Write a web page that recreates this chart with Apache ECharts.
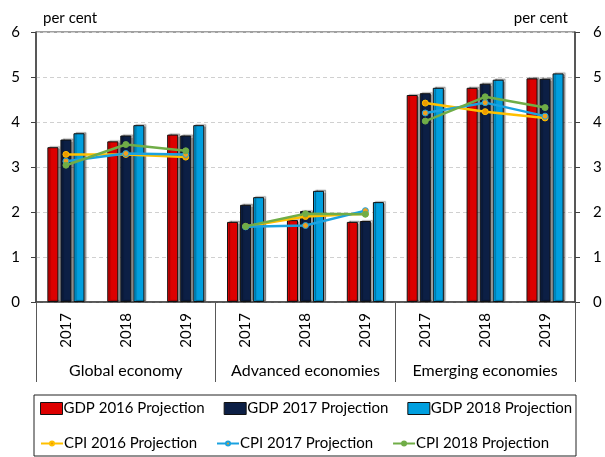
<!DOCTYPE html>
<html>
<head>
<meta charset="utf-8">
<script src="https://cdn.jsdelivr.net/npm/echarts@6/dist/echarts.min.js"></script>
<style>
  html, body { margin: 0; padding: 0; background: #fff; }
  #chart { width: 605px; height: 457px; }
</style>
</head>
<body>
<div id="chart"></div>
<script>
// Year categories within each economy group
const years = ['2017', '2018', '2019'];
const groups = ['Global economy', 'Advanced economies', 'Emerging economies'];

// GDP growth projections (per cent), 9 values: 3 years x 3 groups
const gdp2016 = [3.44, 3.57, 3.72, 1.78, 1.82, 1.78, 4.60, 4.76, 4.97];
const gdp2017 = [3.61, 3.70, 3.70, 2.16, 2.02, 1.80, 4.64, 4.85, 4.96];
const gdp2018 = [3.75, 3.93, 3.93, 2.33, 2.47, 2.22, 4.76, 4.94, 5.08];

// CPI projections (per cent)
const cpi2016 = [3.28, 3.28, 3.22, 1.68, 1.90, 1.96, 4.42, 4.23, 4.09];
const cpi2017 = [3.13, 3.30, 3.28, 1.67, 1.70, 2.03, 4.20, 4.43, 4.13];
const cpi2018 = [3.04, 3.50, 3.36, 1.68, 1.96, 1.95, 4.02, 4.56, 4.32];

// Y axis ticks
const yTicks = [0, 1, 2, 3, 4, 5, 6];

const gdpNames = ['GDP 2016 Projection', 'GDP 2017 Projection', 'GDP 2018 Projection'];
const cpiNames = ['CPI 2016 Projection', 'CPI 2017 Projection', 'CPI 2018 Projection'];

const FONT = 'Lato';
const categories = [];
groups.forEach(() => years.forEach(y => categories.push(y)));

function barSeries(name, color, data) {
  return {
    name, type: 'bar', data,
    barGap: '18%', barCategoryGap: '38%',
    itemStyle: {
      color, borderColor: '#111', borderWidth: 1,
      shadowColor: 'rgba(0,0,0,0.35)', shadowBlur: 1, shadowOffsetX: 2, shadowOffsetY: -1
    },
    z: 2
  };
}

// Each CPI projection is drawn as one line segment per economy group
function lineSeries(name, lineColor, symFill, symBorder, data) {
  return groups.map((g, gi) => ({
    name, type: 'line',
    data: data.map((v, i) => (Math.floor(i / years.length) === gi ? v : '-')),
    symbol: 'circle', symbolSize: 6,
    lineStyle: { color: lineColor, width: 2.5 },
    itemStyle: { color: symFill, borderColor: symBorder, borderWidth: 1 },
    z: 5
  }));
}

const series = [
  barSeries(gdpNames[0], '#dd0000', gdp2016),
  barSeries(gdpNames[1], '#0c1f45', gdp2017),
  barSeries(gdpNames[2], '#009fdf', gdp2018),
  ...lineSeries(cpiNames[0], '#ffc000', '#ee9a00', '#ffc000', cpi2016),
  ...lineSeries(cpiNames[1], '#1aa2e0', '#f0a020', '#1aa2e0', cpi2017),
  ...lineSeries(cpiNames[2], '#70ad47', '#70ad47', '#70ad47', cpi2018)
];

const yAxisBase = {
  type: 'value',
  min: yTicks[0], max: yTicks[yTicks.length - 1], interval: 1,
  name: 'per cent',
  nameGap: 6,
  axisLine: { show: true, lineStyle: { color: '#404040', width: 1.5 } },
  axisTick: { show: true, length: 5, lineStyle: { color: '#404040' } },
  splitLine: { show: true, lineStyle: { color: '#d0d0d0', type: [4, 3], width: 1 } }
};

const legendText = { fontFamily: FONT, fontSize: 15, color: '#000', width: 147, padding: [0, 0, 0, -4] };

const option = {
  animation: false,
  textStyle: { fontFamily: FONT },
  grid: {
    left: 36, right: 30, top: 32, bottom: 155,
    show: true, borderColor: '#404040', borderWidth: 1
  },
  legend: [
    {
      // GDP row, its frame also encloses the CPI row below
      data: gdpNames.map(n => ({ name: n, icon: 'rect' })),
      left: 34, top: 395, width: 2000,
      borderColor: '#222', borderWidth: 1,
      padding: [6, 4, 40, 6],
      itemWidth: 22, itemHeight: 12,
      itemGap: 19,
      itemStyle: { shadowBlur: 0, shadowOffsetX: 0, shadowOffsetY: 0, borderColor: '#111', borderWidth: 1 },
      textStyle: legendText
    },
    {
      data: cpiNames,
      left: 34, top: 436, width: 2000,
      padding: [0, 4, 0, 6],
      itemWidth: 22, itemHeight: 5,
      itemGap: 19,
      textStyle: legendText
    }
  ],
  xAxis: [
    {
      type: 'category', data: categories,
      axisLine: { show: true, lineStyle: { color: '#404040', width: 1.5 } },
      axisTick: { show: false },
      axisLabel: { rotate: 90, fontSize: 15, color: '#000', margin: 11, fontFamily: FONT, interval: 0 }
    },
    {
      type: 'category', data: groups, position: 'bottom',
      axisLine: { show: false },
      axisTick: { show: true, interval: 0, length: 80, lineStyle: { color: '#595959', width: 1 } },
      axisLabel: { fontSize: 16, color: '#000', margin: 61, fontFamily: FONT, interval: 0 }
    }
  ],
  yAxis: [
    Object.assign({}, yAxisBase, {
      position: 'left',
      nameTextStyle: { align: 'left', fontSize: 15, color: '#000', padding: [0, 0, 0, 7], fontFamily: FONT },
      axisLabel: { fontSize: 15, color: '#000', margin: 16, fontFamily: FONT }
    }),
    Object.assign({}, yAxisBase, {
      position: 'right',
      splitLine: { show: false },
      nameTextStyle: { align: 'right', fontSize: 15, color: '#000', padding: [0, 7, 0, 0], fontFamily: FONT },
      axisLabel: { fontSize: 15, color: '#000', margin: 18, fontFamily: FONT }
    })
  ],
  series
};

const chart = echarts.init(document.getElementById('chart'), null, { renderer: 'canvas' });
chart.setOption(option);
</script>
</body>
</html>
